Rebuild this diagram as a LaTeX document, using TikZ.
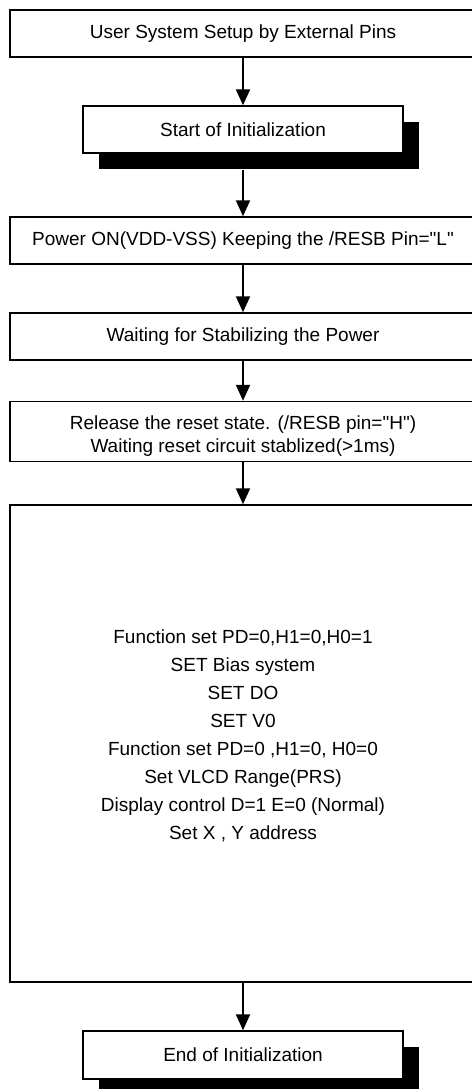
\documentclass[tikz,border=0pt]{standalone}
\usepackage{fontspec}
\setmainfont{Liberation Sans}
\usetikzlibrary{arrows.meta}
\usetikzlibrary{shadows}

\tikzset{
  stepbox/.style={draw, line width=1.5bp, fill=white, inner sep=0pt, minimum width=466bp, font=\fontsize{19bp}{23bp}\selectfont, align=center},
  startbox/.style={stepbox, minimum width=320bp, drop shadow={shadow xshift=16bp, shadow yshift=-16bp, fill=black, opacity=1}},
  flow/.style={line width=2.2bp, -{Triangle[length=16bp,width=14bp]}}
}

\begin{document}
\begin{tikzpicture}[x=1bp,y=1bp,yscale=-1]
\useasboundingbox (0,0) rectangle (472,1089);

% Boxes
\node [stepbox, minimum height=47bp] (setup) at (243,33.5) {User System Setup by External Pins};
\node [startbox, minimum height=47bp] (start) at (243,129.5) {Start of Initialization};
\node [stepbox, minimum height=47bp] (power) at (243,240.5) {Power ON(VDD-VSS) Keeping the /RESB Pin=\textquotedbl L\textquotedbl};
\node [stepbox, minimum height=47bp] (wait) at (243,336.5) {Waiting for Stabilizing the Power};
\node [stepbox, minimum height=60bp] (release) at (243,431.5) {\rule{0pt}{23bp}Release the reset state. (/RESB pin=\textquotedbl H\textquotedbl)\\Waiting reset circuit stablized(>1ms)};
\node [stepbox, minimum height=477bp] (init) at (243,743.5) {};
\node [startbox, minimum height=48bp] (end) at (243,1055) {End of Initialization};

% Text Node
\node [font=\fontsize{19bp}{28bp}\selectfont, align=center, inner sep=0pt] (cmds) at (243,735.5) {Function set PD=0,H1=0,H0=1\\SET Bias system\\SET DO\\SET V0\\Function set PD=0 ,H1=0, H0=0\\Set VLCD Range(PRS)\\Display control D=1 E=0 (Normal)\\Set X , Y address};

% Arrows
\draw [flow] (setup) -- (start);
\draw [flow] (start.south) ++(0,16) -- (power);
\draw [flow] (power) -- (wait);
\draw [flow] (wait) -- (release);
\draw [flow] (release) -- (init);
\draw [flow] (init) -- (end);

\end{tikzpicture}
\end{document}
